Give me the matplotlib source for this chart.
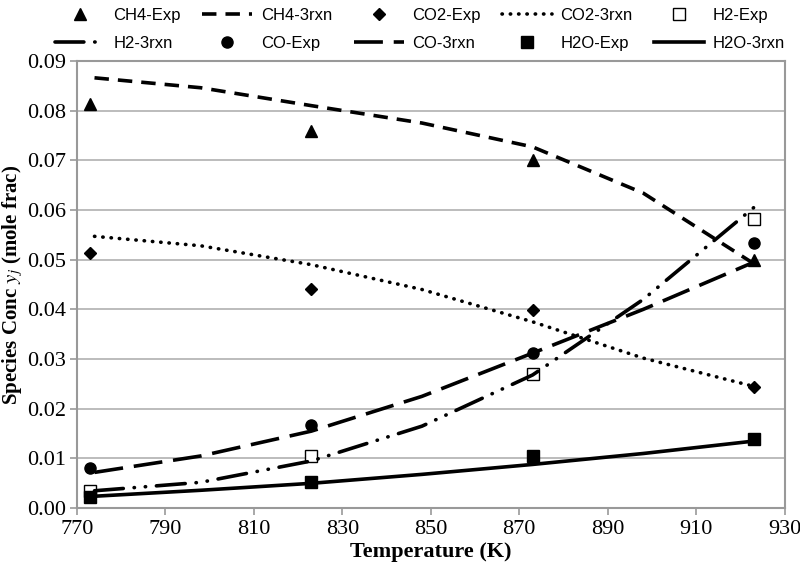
import matplotlib.pyplot as plt

plt.rcParams['mathtext.fontset'] = 'stix'

# DATA

temp_exp = [773, 823, 873, 923]
ch4_exp = [0.0813, 0.0759, 0.0700, 0.0499]
co2_exp = [0.0513, 0.0442, 0.0399, 0.0244]
h2_exp = [0.0035, 0.0104, 0.0270, 0.0582]
co_exp = [0.0080, 0.0168, 0.0312, 0.0533]
h2o_exp = [0.0022, 0.0052, 0.0105, 0.0140]

temp_model = [774, 798, 823, 848, 873, 898, 923]
ch4_3rxn = [0.0866, 0.0846, 0.0810, 0.0775, 0.0727, 0.0634, 0.0492]
co2_3rxn = [0.0547, 0.0528, 0.0490, 0.0440, 0.0375, 0.0302, 0.0245]
h2_3rxn = [0.0035, 0.0052, 0.0095, 0.0165, 0.0268, 0.0420, 0.0605]
co_3rxn = [0.0072, 0.0105, 0.0155, 0.0225, 0.0312, 0.0400, 0.0495]
h2o_3rxn = [0.0024, 0.0036, 0.0050, 0.0068, 0.0088, 0.0110, 0.0135]

# PLOT

fig = plt.figure(figsize=(8, 5.64), dpi=100)
ax = fig.add_axes([0.096, 0.099, 0.885, 0.793])

ms = 8
lw = 2.6
ax.plot(temp_exp, ch4_exp, '^', color='black', ms=ms, label='CH4-Exp')
ax.plot(temp_model, ch4_3rxn, color='black', lw=lw, ls=(0, (4, 2.5)), label='CH4-3rxn')
ax.plot(temp_exp, co2_exp, 'D', color='black', ms=6.5, label='CO2-Exp')
ax.plot(temp_model, co2_3rxn, color='black', lw=lw, ls=(0, (0.1, 2.2)),
        dash_capstyle='round', label='CO2-3rxn')
ax.plot(temp_exp, h2_exp, 's', mfc='white', mec='black', mew=1, ms=ms, label='H2-Exp')
ax.plot(temp_model, h2_3rxn, color='black', lw=lw, ls=(0, (8, 3, 0.1, 3, 0.1, 3)),
        dash_capstyle='round', label='H2-3rxn')
ax.plot(temp_exp, co_exp, 'o', color='black', ms=ms, label='CO-Exp')
ax.plot(temp_model, co_3rxn, color='black', lw=lw, ls=(0, (8, 3)), label='CO-3rxn')
ax.plot(temp_exp, h2o_exp, 's', color='black', ms=ms, label='H2O-Exp')
ax.plot(temp_model, h2o_3rxn, color='black', lw=lw, ls='-', label='H2O-3rxn')

ax.set_xlim(770, 930)
ax.set_ylim(0, 0.09)
ax.set_xticks(range(770, 931, 20))
ax.set_yticks([i / 100 for i in range(10)])
ax.set_yticklabels([f'{i / 100:.2f}' for i in range(10)])
ax.yaxis.grid(True, color='#b0b0b0', lw=1.2)
ax.set_axisbelow(True)
for s in ax.spines.values():
    s.set_color('#999999')
    s.set_linewidth(1.5)
ax.tick_params(axis='both', colors='#999999', labelcolor='black', labelsize=16,
               length=5, width=1.2)
ax.tick_params(axis='y', pad=3)
for lab in ax.get_xticklabels() + ax.get_yticklabels():
    lab.set_family('Liberation Serif')

ax.set_xlabel('Temperature (K)', fontsize=16, fontweight='bold', family='Liberation Serif',
              labelpad=2)
ax.set_ylabel('Species Conc $y_j$ (mole frac)', fontsize=15, fontweight='bold',
              family='Liberation Serif', labelpad=1)

# legend filled row by row like the original
handles, labels = ax.get_legend_handles_labels()
order = [0, 5, 1, 6, 2, 7, 3, 8, 4, 9]
fig.legend([handles[i] for i in order], [labels[i] for i in order],
           loc='upper center', bbox_to_anchor=(0.525, 1.012), ncol=5, frameon=False,
           prop={'family': 'Liberation Sans', 'size': 12},
           handlelength=3, columnspacing=1.3, handletextpad=0.5, labelspacing=0.75)

fig.savefig('out.png', dpi=100)
